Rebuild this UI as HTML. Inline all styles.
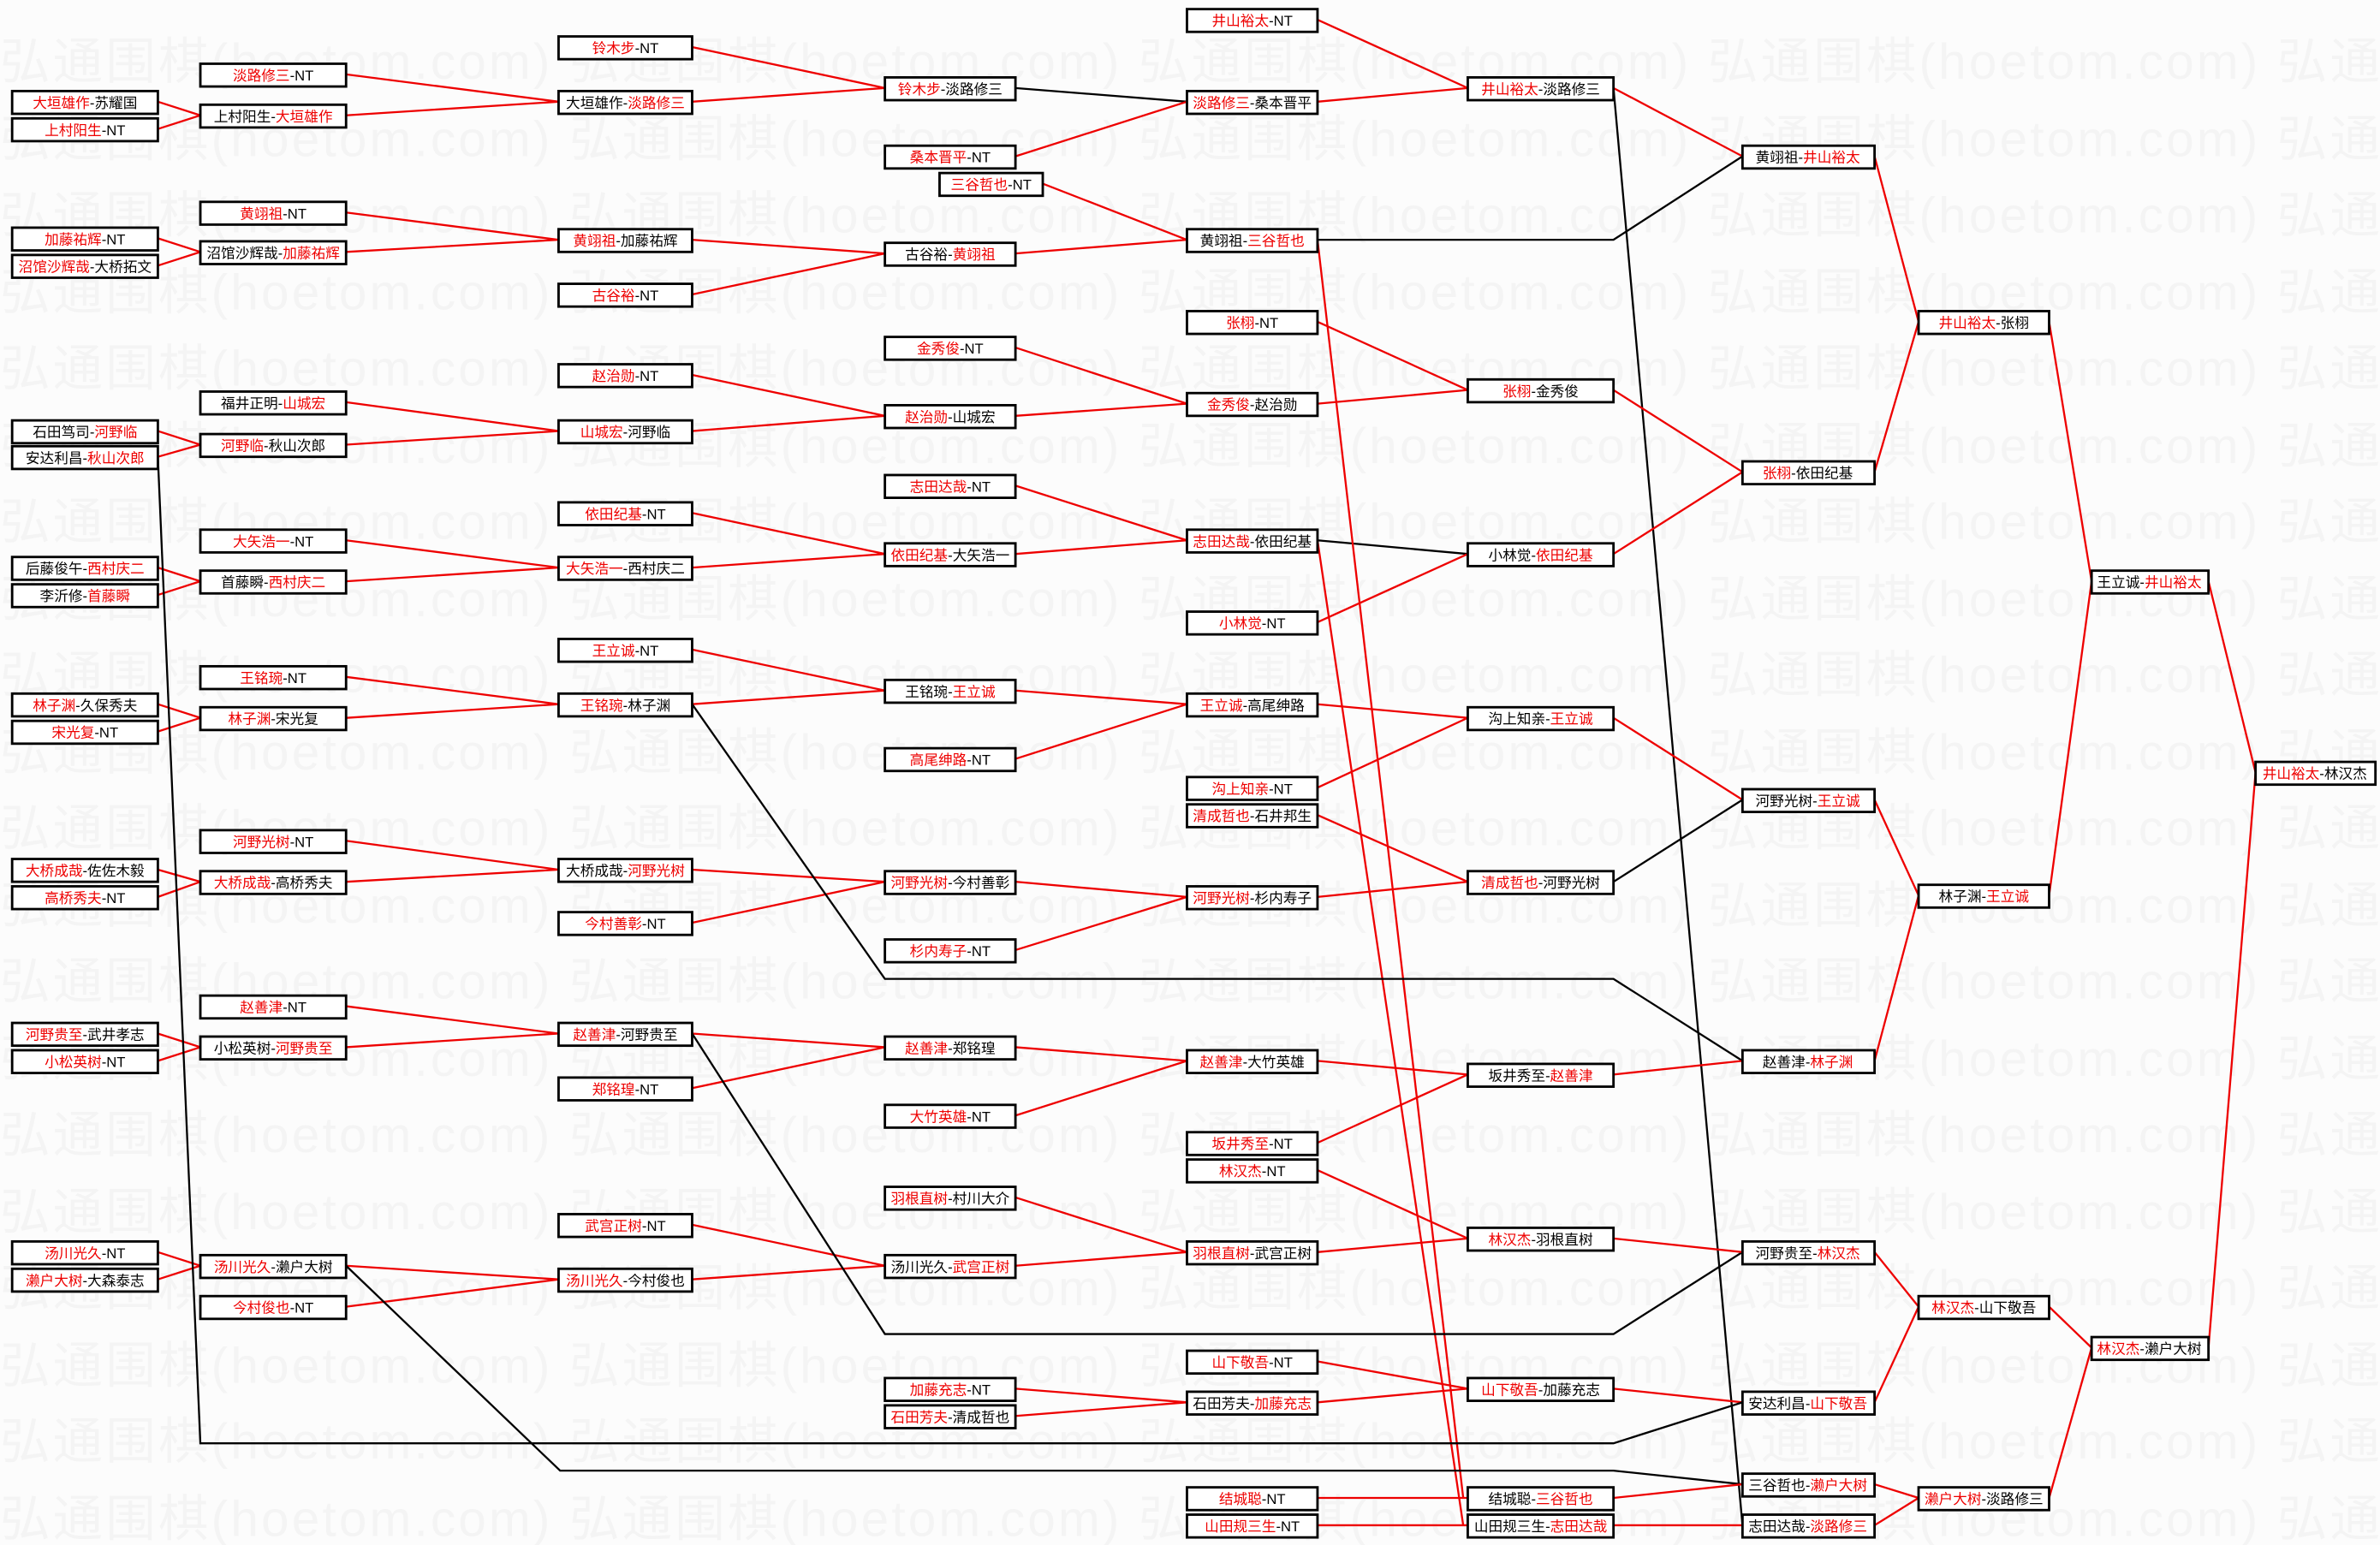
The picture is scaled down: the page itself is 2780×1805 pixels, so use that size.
<!DOCTYPE html>
<html><head><meta charset="utf-8">
<style>
html,body{margin:0;padding:0;background:#fcfcfc;}
svg{display:block;}
text{font-family:"Liberation Sans","Noto Sans CJK SC","WenQuanYi Zen Hei",sans-serif;}
.b text{font-size:9.4px;fill:#000;text-anchor:middle;}
.b rect{fill:#fff;stroke:#000;stroke-width:1.6;}
.r{fill:#e00;}
.wm{font-size:33px;fill:#f4f4f4;}
.L line,.L polyline{fill:none;stroke-width:1.3;}
.red{stroke:#e00;}
.blk{stroke:#000;}
</style></head><body>
<svg width="2780" height="1805" viewBox="0 0 1568 1018" preserveAspectRatio="none" xmlns="http://www.w3.org/2000/svg">
<rect width="1568" height="1018" fill="#fcfcfc"/>
<g class="wm">
<text x="0" y="52" textLength="1568">弘通围棋(hoetom.com) 弘通围棋(hoetom.com) 弘通围棋(hoetom.com) 弘通围棋(hoetom.com) 弘通</text>
<text x="0" y="103" textLength="1568">弘通围棋(hoetom.com) 弘通围棋(hoetom.com) 弘通围棋(hoetom.com) 弘通围棋(hoetom.com) 弘通</text>
<text x="0" y="153" textLength="1568">弘通围棋(hoetom.com) 弘通围棋(hoetom.com) 弘通围棋(hoetom.com) 弘通围棋(hoetom.com) 弘通</text>
<text x="0" y="204" textLength="1568">弘通围棋(hoetom.com) 弘通围棋(hoetom.com) 弘通围棋(hoetom.com) 弘通围棋(hoetom.com) 弘通</text>
<text x="0" y="254" textLength="1568">弘通围棋(hoetom.com) 弘通围棋(hoetom.com) 弘通围棋(hoetom.com) 弘通围棋(hoetom.com) 弘通</text>
<text x="0" y="305" textLength="1568">弘通围棋(hoetom.com) 弘通围棋(hoetom.com) 弘通围棋(hoetom.com) 弘通围棋(hoetom.com) 弘通</text>
<text x="0" y="355" textLength="1568">弘通围棋(hoetom.com) 弘通围棋(hoetom.com) 弘通围棋(hoetom.com) 弘通围棋(hoetom.com) 弘通</text>
<text x="0" y="406" textLength="1568">弘通围棋(hoetom.com) 弘通围棋(hoetom.com) 弘通围棋(hoetom.com) 弘通围棋(hoetom.com) 弘通</text>
<text x="0" y="456" textLength="1568">弘通围棋(hoetom.com) 弘通围棋(hoetom.com) 弘通围棋(hoetom.com) 弘通围棋(hoetom.com) 弘通</text>
<text x="0" y="507" textLength="1568">弘通围棋(hoetom.com) 弘通围棋(hoetom.com) 弘通围棋(hoetom.com) 弘通围棋(hoetom.com) 弘通</text>
<text x="0" y="557" textLength="1568">弘通围棋(hoetom.com) 弘通围棋(hoetom.com) 弘通围棋(hoetom.com) 弘通围棋(hoetom.com) 弘通</text>
<text x="0" y="608" textLength="1568">弘通围棋(hoetom.com) 弘通围棋(hoetom.com) 弘通围棋(hoetom.com) 弘通围棋(hoetom.com) 弘通</text>
<text x="0" y="658" textLength="1568">弘通围棋(hoetom.com) 弘通围棋(hoetom.com) 弘通围棋(hoetom.com) 弘通围棋(hoetom.com) 弘通</text>
<text x="0" y="709" textLength="1568">弘通围棋(hoetom.com) 弘通围棋(hoetom.com) 弘通围棋(hoetom.com) 弘通围棋(hoetom.com) 弘通</text>
<text x="0" y="759" textLength="1568">弘通围棋(hoetom.com) 弘通围棋(hoetom.com) 弘通围棋(hoetom.com) 弘通围棋(hoetom.com) 弘通</text>
<text x="0" y="810" textLength="1568">弘通围棋(hoetom.com) 弘通围棋(hoetom.com) 弘通围棋(hoetom.com) 弘通围棋(hoetom.com) 弘通</text>
<text x="0" y="860" textLength="1568">弘通围棋(hoetom.com) 弘通围棋(hoetom.com) 弘通围棋(hoetom.com) 弘通围棋(hoetom.com) 弘通</text>
<text x="0" y="911" textLength="1568">弘通围棋(hoetom.com) 弘通围棋(hoetom.com) 弘通围棋(hoetom.com) 弘通围棋(hoetom.com) 弘通</text>
<text x="0" y="961" textLength="1568">弘通围棋(hoetom.com) 弘通围棋(hoetom.com) 弘通围棋(hoetom.com) 弘通围棋(hoetom.com) 弘通</text>
<text x="0" y="1012" textLength="1568">弘通围棋(hoetom.com) 弘通围棋(hoetom.com) 弘通围棋(hoetom.com) 弘通围棋(hoetom.com) 弘通</text>
</g>

<g class="L">
<polyline class="red" points="104,67 132,76 104,85"/>
<polyline class="red" points="104,157 132,166 104,175"/>
<polyline class="red" points="104,284 132,293 104,301"/>
<polyline class="red" points="104,374 132,383 104,392"/>
<polyline class="red" points="104,464 132,473 104,482"/>
<polyline class="red" points="104,573 132,581 104,591"/>
<polyline class="red" points="104,681 132,690 104,699"/>
<polyline class="red" points="104,825 132,834 104,843"/>
<polyline class="red" points="228,49 368,67 228,76"/>
<polyline class="red" points="228,140 368,158 228,166"/>
<polyline class="red" points="228,265 368,284 228,293"/>
<polyline class="red" points="228,356 368,374 228,383"/>
<polyline class="red" points="228,446 368,464 228,473"/>
<polyline class="red" points="228,554 368,573 228,581"/>
<polyline class="red" points="228,663 368,681 228,690"/>
<polyline class="red" points="228,834 368,843 228,861"/>
<polyline class="red" points="456,31 583,58 456,67"/>
<polyline class="red" points="456,158 583,167 456,194"/>
<polyline class="red" points="456,247 583,274 456,284"/>
<polyline class="red" points="456,338 583,365 456,374"/>
<polyline class="red" points="456,428 583,455 456,464"/>
<polyline class="red" points="456,573 583,581 456,608"/>
<polyline class="red" points="456,681 583,690 456,717"/>
<polyline class="red" points="456,807 583,834 456,843"/>
<line class="blk" x1="669" y1="58" x2="782" y2="67"/>
<line class="red" x1="669" y1="103" x2="782" y2="67"/>
<polyline class="red" points="687,121 782,158 669,167"/>
<polyline class="red" points="669,229 782,266 669,274"/>
<polyline class="red" points="669,320 782,356 669,365"/>
<polyline class="red" points="669,455 782,464 669,500"/>
<polyline class="red" points="669,581 782,591 669,626"/>
<polyline class="red" points="669,690 782,699 669,735"/>
<polyline class="red" points="669,789 782,825 669,834"/>
<polyline class="red" points="669,915 782,924 669,933"/>
<polyline class="red" points="868,13 967,58 868,67"/>
<polyline class="red" points="868,212 967,257 868,266"/>
<line class="blk" x1="868" y1="356" x2="967" y2="365"/>
<line class="red" x1="868" y1="410" x2="967" y2="365"/>
<polyline class="red" points="868,464 967,473 868,519"/>
<polyline class="red" points="868,537 967,581 868,591"/>
<polyline class="red" points="868,699 967,708 868,753"/>
<polyline class="red" points="868,771 967,816 868,825"/>
<polyline class="red" points="868,897 967,915 868,924"/>
<line class="red" x1="868" y1="987" x2="967" y2="987"/>
<line class="red" x1="868" y1="1005" x2="967" y2="1005"/>
<line class="red" x1="868" y1="158" x2="964" y2="987"/>
<line class="red" x1="868" y1="356" x2="964" y2="1005"/>
<polyline class="blk" points="868,158 1063,158 1148,103"/>
<line class="red" x1="1063" y1="58" x2="1148" y2="103"/>
<line class="blk" x1="1063" y1="58" x2="1148" y2="1005"/>
<polyline class="red" points="1063,257 1148,311 1063,365"/>
<line class="red" x1="1063" y1="473" x2="1148" y2="527"/>
<line class="blk" x1="1063" y1="581" x2="1148" y2="527"/>
<polyline class="blk" points="456,464 583,645 1063,645 1148,699"/>
<line class="red" x1="1063" y1="708" x2="1148" y2="699"/>
<polyline class="blk" points="456,681 583,879 1063,879 1148,825"/>
<line class="red" x1="1063" y1="816" x2="1148" y2="825"/>
<line class="red" x1="1063" y1="915" x2="1148" y2="924"/>
<polyline class="blk" points="104,301 132,951 1063,951 1148,924"/>
<polyline class="blk" points="228,834 369,969 1063,969 1148,978"/>
<line class="red" x1="1063" y1="987" x2="1148" y2="978"/>
<line class="red" x1="1063" y1="1005" x2="1148" y2="1005"/>
<polyline class="red" points="1235,103 1264,212 1235,311"/>
<polyline class="red" points="1235,527 1264,590 1235,699"/>
<polyline class="red" points="1235,825 1264,861 1235,924"/>
<polyline class="red" points="1235,978 1264,987 1235,1005"/>
<polyline class="red" points="1350,212 1378,383 1350,590"/>
<polyline class="red" points="1350,861 1378,888 1350,987"/>
<polyline class="red" points="1455,383 1486,509 1455,888"/>
</g>

<g class="b">
<rect x="8" y="60" width="96" height="15"/><text x="56" y="71"><tspan class="r">大垣雄作</tspan>-苏耀国</text>
<rect x="8" y="78" width="96" height="15"/><text x="56" y="89"><tspan class="r">上村阳生</tspan>-NT</text>
<rect x="8" y="150" width="96" height="15"/><text x="56" y="161"><tspan class="r">加藤祐辉</tspan>-NT</text>
<rect x="8" y="168" width="96" height="15"/><text x="56" y="179"><tspan class="r">沼馆沙辉哉</tspan>-大桥拓文</text>
<rect x="8" y="277" width="96" height="15"/><text x="56" y="288">石田笃司-<tspan class="r">河野临</tspan></text>
<rect x="8" y="294" width="96" height="15"/><text x="56" y="305">安达利昌-<tspan class="r">秋山次郎</tspan></text>
<rect x="8" y="367" width="96" height="15"/><text x="56" y="378">后藤俊午-<tspan class="r">西村庆二</tspan></text>
<rect x="8" y="385" width="96" height="15"/><text x="56" y="396">李沂修-<tspan class="r">首藤瞬</tspan></text>
<rect x="8" y="457" width="96" height="15"/><text x="56" y="468"><tspan class="r">林子渊</tspan>-久保秀夫</text>
<rect x="8" y="475" width="96" height="15"/><text x="56" y="486"><tspan class="r">宋光复</tspan>-NT</text>
<rect x="8" y="566" width="96" height="15"/><text x="56" y="577"><tspan class="r">大桥成哉</tspan>-佐佐木毅</text>
<rect x="8" y="584" width="96" height="15"/><text x="56" y="595"><tspan class="r">高桥秀夫</tspan>-NT</text>
<rect x="8" y="674" width="96" height="15"/><text x="56" y="685"><tspan class="r">河野贵至</tspan>-武井孝志</text>
<rect x="8" y="692" width="96" height="15"/><text x="56" y="703"><tspan class="r">小松英树</tspan>-NT</text>
<rect x="8" y="818" width="96" height="15"/><text x="56" y="829"><tspan class="r">汤川光久</tspan>-NT</text>
<rect x="8" y="836" width="96" height="15"/><text x="56" y="847"><tspan class="r">濑户大树</tspan>-大森泰志</text>
<rect x="132" y="42" width="96" height="15"/><text x="180" y="53"><tspan class="r">淡路修三</tspan>-NT</text>
<rect x="132" y="69" width="96" height="15"/><text x="180" y="80">上村阳生-<tspan class="r">大垣雄作</tspan></text>
<rect x="132" y="133" width="96" height="15"/><text x="180" y="144"><tspan class="r">黄翊祖</tspan>-NT</text>
<rect x="132" y="159" width="96" height="15"/><text x="180" y="170">沼馆沙辉哉-<tspan class="r">加藤祐辉</tspan></text>
<rect x="132" y="258" width="96" height="15"/><text x="180" y="269">福井正明-<tspan class="r">山城宏</tspan></text>
<rect x="132" y="286" width="96" height="15"/><text x="180" y="297"><tspan class="r">河野临</tspan>-秋山次郎</text>
<rect x="132" y="349" width="96" height="15"/><text x="180" y="360"><tspan class="r">大矢浩一</tspan>-NT</text>
<rect x="132" y="376" width="96" height="15"/><text x="180" y="387">首藤瞬-<tspan class="r">西村庆二</tspan></text>
<rect x="132" y="439" width="96" height="15"/><text x="180" y="450"><tspan class="r">王铭琬</tspan>-NT</text>
<rect x="132" y="466" width="96" height="15"/><text x="180" y="477"><tspan class="r">林子渊</tspan>-宋光复</text>
<rect x="132" y="547" width="96" height="15"/><text x="180" y="558"><tspan class="r">河野光树</tspan>-NT</text>
<rect x="132" y="574" width="96" height="15"/><text x="180" y="585"><tspan class="r">大桥成哉</tspan>-高桥秀夫</text>
<rect x="132" y="656" width="96" height="15"/><text x="180" y="667"><tspan class="r">赵善津</tspan>-NT</text>
<rect x="132" y="683" width="96" height="15"/><text x="180" y="694">小松英树-<tspan class="r">河野贵至</tspan></text>
<rect x="132" y="827" width="96" height="15"/><text x="180" y="838"><tspan class="r">汤川光久</tspan>-濑户大树</text>
<rect x="132" y="854" width="96" height="15"/><text x="180" y="865"><tspan class="r">今村俊也</tspan>-NT</text>
<rect x="368" y="24" width="88" height="15"/><text x="412" y="35"><tspan class="r">铃木步</tspan>-NT</text>
<rect x="368" y="60" width="88" height="15"/><text x="412" y="71">大垣雄作-<tspan class="r">淡路修三</tspan></text>
<rect x="368" y="151" width="88" height="15"/><text x="412" y="162"><tspan class="r">黄翊祖</tspan>-加藤祐辉</text>
<rect x="368" y="187" width="88" height="15"/><text x="412" y="198"><tspan class="r">古谷裕</tspan>-NT</text>
<rect x="368" y="240" width="88" height="15"/><text x="412" y="251"><tspan class="r">赵治勋</tspan>-NT</text>
<rect x="368" y="277" width="88" height="15"/><text x="412" y="288"><tspan class="r">山城宏</tspan>-河野临</text>
<rect x="368" y="331" width="88" height="15"/><text x="412" y="342"><tspan class="r">依田纪基</tspan>-NT</text>
<rect x="368" y="367" width="88" height="15"/><text x="412" y="378"><tspan class="r">大矢浩一</tspan>-西村庆二</text>
<rect x="368" y="421" width="88" height="15"/><text x="412" y="432"><tspan class="r">王立诚</tspan>-NT</text>
<rect x="368" y="457" width="88" height="15"/><text x="412" y="468"><tspan class="r">王铭琬</tspan>-林子渊</text>
<rect x="368" y="566" width="88" height="15"/><text x="412" y="577">大桥成哉-<tspan class="r">河野光树</tspan></text>
<rect x="368" y="601" width="88" height="15"/><text x="412" y="612"><tspan class="r">今村善彰</tspan>-NT</text>
<rect x="368" y="674" width="88" height="15"/><text x="412" y="685"><tspan class="r">赵善津</tspan>-河野贵至</text>
<rect x="368" y="710" width="88" height="15"/><text x="412" y="721"><tspan class="r">郑铭瑝</tspan>-NT</text>
<rect x="368" y="800" width="88" height="15"/><text x="412" y="811"><tspan class="r">武宫正树</tspan>-NT</text>
<rect x="368" y="836" width="88" height="15"/><text x="412" y="847"><tspan class="r">汤川光久</tspan>-今村俊也</text>
<rect x="583" y="51" width="86" height="15"/><text x="626" y="62"><tspan class="r">铃木步</tspan>-淡路修三</text>
<rect x="583" y="96" width="86" height="15"/><text x="626" y="107"><tspan class="r">桑本晋平</tspan>-NT</text>
<rect x="619" y="114" width="68" height="15"/><text x="653" y="125"><tspan class="r">三谷哲也</tspan>-NT</text>
<rect x="583" y="160" width="86" height="15"/><text x="626" y="171">古谷裕-<tspan class="r">黄翊祖</tspan></text>
<rect x="583" y="222" width="86" height="15"/><text x="626" y="233"><tspan class="r">金秀俊</tspan>-NT</text>
<rect x="583" y="267" width="86" height="15"/><text x="626" y="278"><tspan class="r">赵治勋</tspan>-山城宏</text>
<rect x="583" y="313" width="86" height="15"/><text x="626" y="324"><tspan class="r">志田达哉</tspan>-NT</text>
<rect x="583" y="358" width="86" height="15"/><text x="626" y="369"><tspan class="r">依田纪基</tspan>-大矢浩一</text>
<rect x="583" y="448" width="86" height="15"/><text x="626" y="459">王铭琬-<tspan class="r">王立诚</tspan></text>
<rect x="583" y="493" width="86" height="15"/><text x="626" y="504"><tspan class="r">高尾绅路</tspan>-NT</text>
<rect x="583" y="574" width="86" height="15"/><text x="626" y="585"><tspan class="r">河野光树</tspan>-今村善彰</text>
<rect x="583" y="619" width="86" height="15"/><text x="626" y="630"><tspan class="r">杉内寿子</tspan>-NT</text>
<rect x="583" y="683" width="86" height="15"/><text x="626" y="694"><tspan class="r">赵善津</tspan>-郑铭瑝</text>
<rect x="583" y="728" width="86" height="15"/><text x="626" y="739"><tspan class="r">大竹英雄</tspan>-NT</text>
<rect x="583" y="782" width="86" height="15"/><text x="626" y="793"><tspan class="r">羽根直树</tspan>-村川大介</text>
<rect x="583" y="827" width="86" height="15"/><text x="626" y="838">汤川光久-<tspan class="r">武宫正树</tspan></text>
<rect x="583" y="908" width="86" height="15"/><text x="626" y="919"><tspan class="r">加藤充志</tspan>-NT</text>
<rect x="583" y="926" width="86" height="15"/><text x="626" y="937"><tspan class="r">石田芳夫</tspan>-清成哲也</text>
<rect x="782" y="6" width="86" height="15"/><text x="825" y="17"><tspan class="r">井山裕太</tspan>-NT</text>
<rect x="782" y="60" width="86" height="15"/><text x="825" y="71"><tspan class="r">淡路修三</tspan>-桑本晋平</text>
<rect x="782" y="151" width="86" height="15"/><text x="825" y="162">黄翊祖-<tspan class="r">三谷哲也</tspan></text>
<rect x="782" y="205" width="86" height="15"/><text x="825" y="216"><tspan class="r">张栩</tspan>-NT</text>
<rect x="782" y="259" width="86" height="15"/><text x="825" y="270"><tspan class="r">金秀俊</tspan>-赵治勋</text>
<rect x="782" y="349" width="86" height="15"/><text x="825" y="360"><tspan class="r">志田达哉</tspan>-依田纪基</text>
<rect x="782" y="403" width="86" height="15"/><text x="825" y="414"><tspan class="r">小林觉</tspan>-NT</text>
<rect x="782" y="457" width="86" height="15"/><text x="825" y="468"><tspan class="r">王立诚</tspan>-高尾绅路</text>
<rect x="782" y="512" width="86" height="15"/><text x="825" y="523"><tspan class="r">沟上知亲</tspan>-NT</text>
<rect x="782" y="530" width="86" height="15"/><text x="825" y="541"><tspan class="r">清成哲也</tspan>-石井邦生</text>
<rect x="782" y="584" width="86" height="15"/><text x="825" y="595"><tspan class="r">河野光树</tspan>-杉内寿子</text>
<rect x="782" y="692" width="86" height="15"/><text x="825" y="703"><tspan class="r">赵善津</tspan>-大竹英雄</text>
<rect x="782" y="746" width="86" height="15"/><text x="825" y="757"><tspan class="r">坂井秀至</tspan>-NT</text>
<rect x="782" y="764" width="86" height="15"/><text x="825" y="775"><tspan class="r">林汉杰</tspan>-NT</text>
<rect x="782" y="818" width="86" height="15"/><text x="825" y="829"><tspan class="r">羽根直树</tspan>-武宫正树</text>
<rect x="782" y="890" width="86" height="15"/><text x="825" y="901"><tspan class="r">山下敬吾</tspan>-NT</text>
<rect x="782" y="917" width="86" height="15"/><text x="825" y="928">石田芳夫-<tspan class="r">加藤充志</tspan></text>
<rect x="782" y="980" width="86" height="15"/><text x="825" y="991"><tspan class="r">结城聪</tspan>-NT</text>
<rect x="782" y="998" width="86" height="15"/><text x="825" y="1009"><tspan class="r">山田规三生</tspan>-NT</text>
<rect x="967" y="51" width="96" height="15"/><text x="1015" y="62"><tspan class="r">井山裕太</tspan>-淡路修三</text>
<rect x="967" y="250" width="96" height="15"/><text x="1015" y="261"><tspan class="r">张栩</tspan>-金秀俊</text>
<rect x="967" y="358" width="96" height="15"/><text x="1015" y="369">小林觉-<tspan class="r">依田纪基</tspan></text>
<rect x="967" y="466" width="96" height="15"/><text x="1015" y="477">沟上知亲-<tspan class="r">王立诚</tspan></text>
<rect x="967" y="574" width="96" height="15"/><text x="1015" y="585"><tspan class="r">清成哲也</tspan>-河野光树</text>
<rect x="967" y="701" width="96" height="15"/><text x="1015" y="712">坂井秀至-<tspan class="r">赵善津</tspan></text>
<rect x="967" y="809" width="96" height="15"/><text x="1015" y="820"><tspan class="r">林汉杰</tspan>-羽根直树</text>
<rect x="967" y="908" width="96" height="15"/><text x="1015" y="919"><tspan class="r">山下敬吾</tspan>-加藤充志</text>
<rect x="967" y="980" width="96" height="15"/><text x="1015" y="991">结城聪-<tspan class="r">三谷哲也</tspan></text>
<rect x="967" y="998" width="96" height="15"/><text x="1015" y="1009">山田规三生-<tspan class="r">志田达哉</tspan></text>
<rect x="1148" y="96" width="87" height="15"/><text x="1191" y="107">黄翊祖-<tspan class="r">井山裕太</tspan></text>
<rect x="1148" y="304" width="87" height="15"/><text x="1191" y="315"><tspan class="r">张栩</tspan>-依田纪基</text>
<rect x="1148" y="520" width="87" height="15"/><text x="1191" y="531">河野光树-<tspan class="r">王立诚</tspan></text>
<rect x="1148" y="692" width="87" height="15"/><text x="1191" y="703">赵善津-<tspan class="r">林子渊</tspan></text>
<rect x="1148" y="818" width="87" height="15"/><text x="1191" y="829">河野贵至-<tspan class="r">林汉杰</tspan></text>
<rect x="1148" y="917" width="87" height="15"/><text x="1191" y="928">安达利昌-<tspan class="r">山下敬吾</tspan></text>
<rect x="1148" y="971" width="87" height="15"/><text x="1191" y="982">三谷哲也-<tspan class="r">濑户大树</tspan></text>
<rect x="1148" y="998" width="87" height="15"/><text x="1191" y="1009">志田达哉-<tspan class="r">淡路修三</tspan></text>
<rect x="1264" y="205" width="86" height="15"/><text x="1307" y="216"><tspan class="r">井山裕太</tspan>-张栩</text>
<rect x="1264" y="583" width="86" height="15"/><text x="1307" y="594">林子渊-<tspan class="r">王立诚</tspan></text>
<rect x="1264" y="854" width="86" height="15"/><text x="1307" y="865"><tspan class="r">林汉杰</tspan>-山下敬吾</text>
<rect x="1264" y="980" width="86" height="15"/><text x="1307" y="991"><tspan class="r">濑户大树</tspan>-淡路修三</text>
<rect x="1378" y="376" width="77" height="15"/><text x="1416" y="387">王立诚-<tspan class="r">井山裕太</tspan></text>
<rect x="1378" y="881" width="77" height="15"/><text x="1416" y="892"><tspan class="r">林汉杰</tspan>-濑户大树</text>
<rect x="1486" y="502" width="79" height="15"/><text x="1525" y="513"><tspan class="r">井山裕太</tspan>-林汉杰</text>
</g>
</svg>
</body></html>
